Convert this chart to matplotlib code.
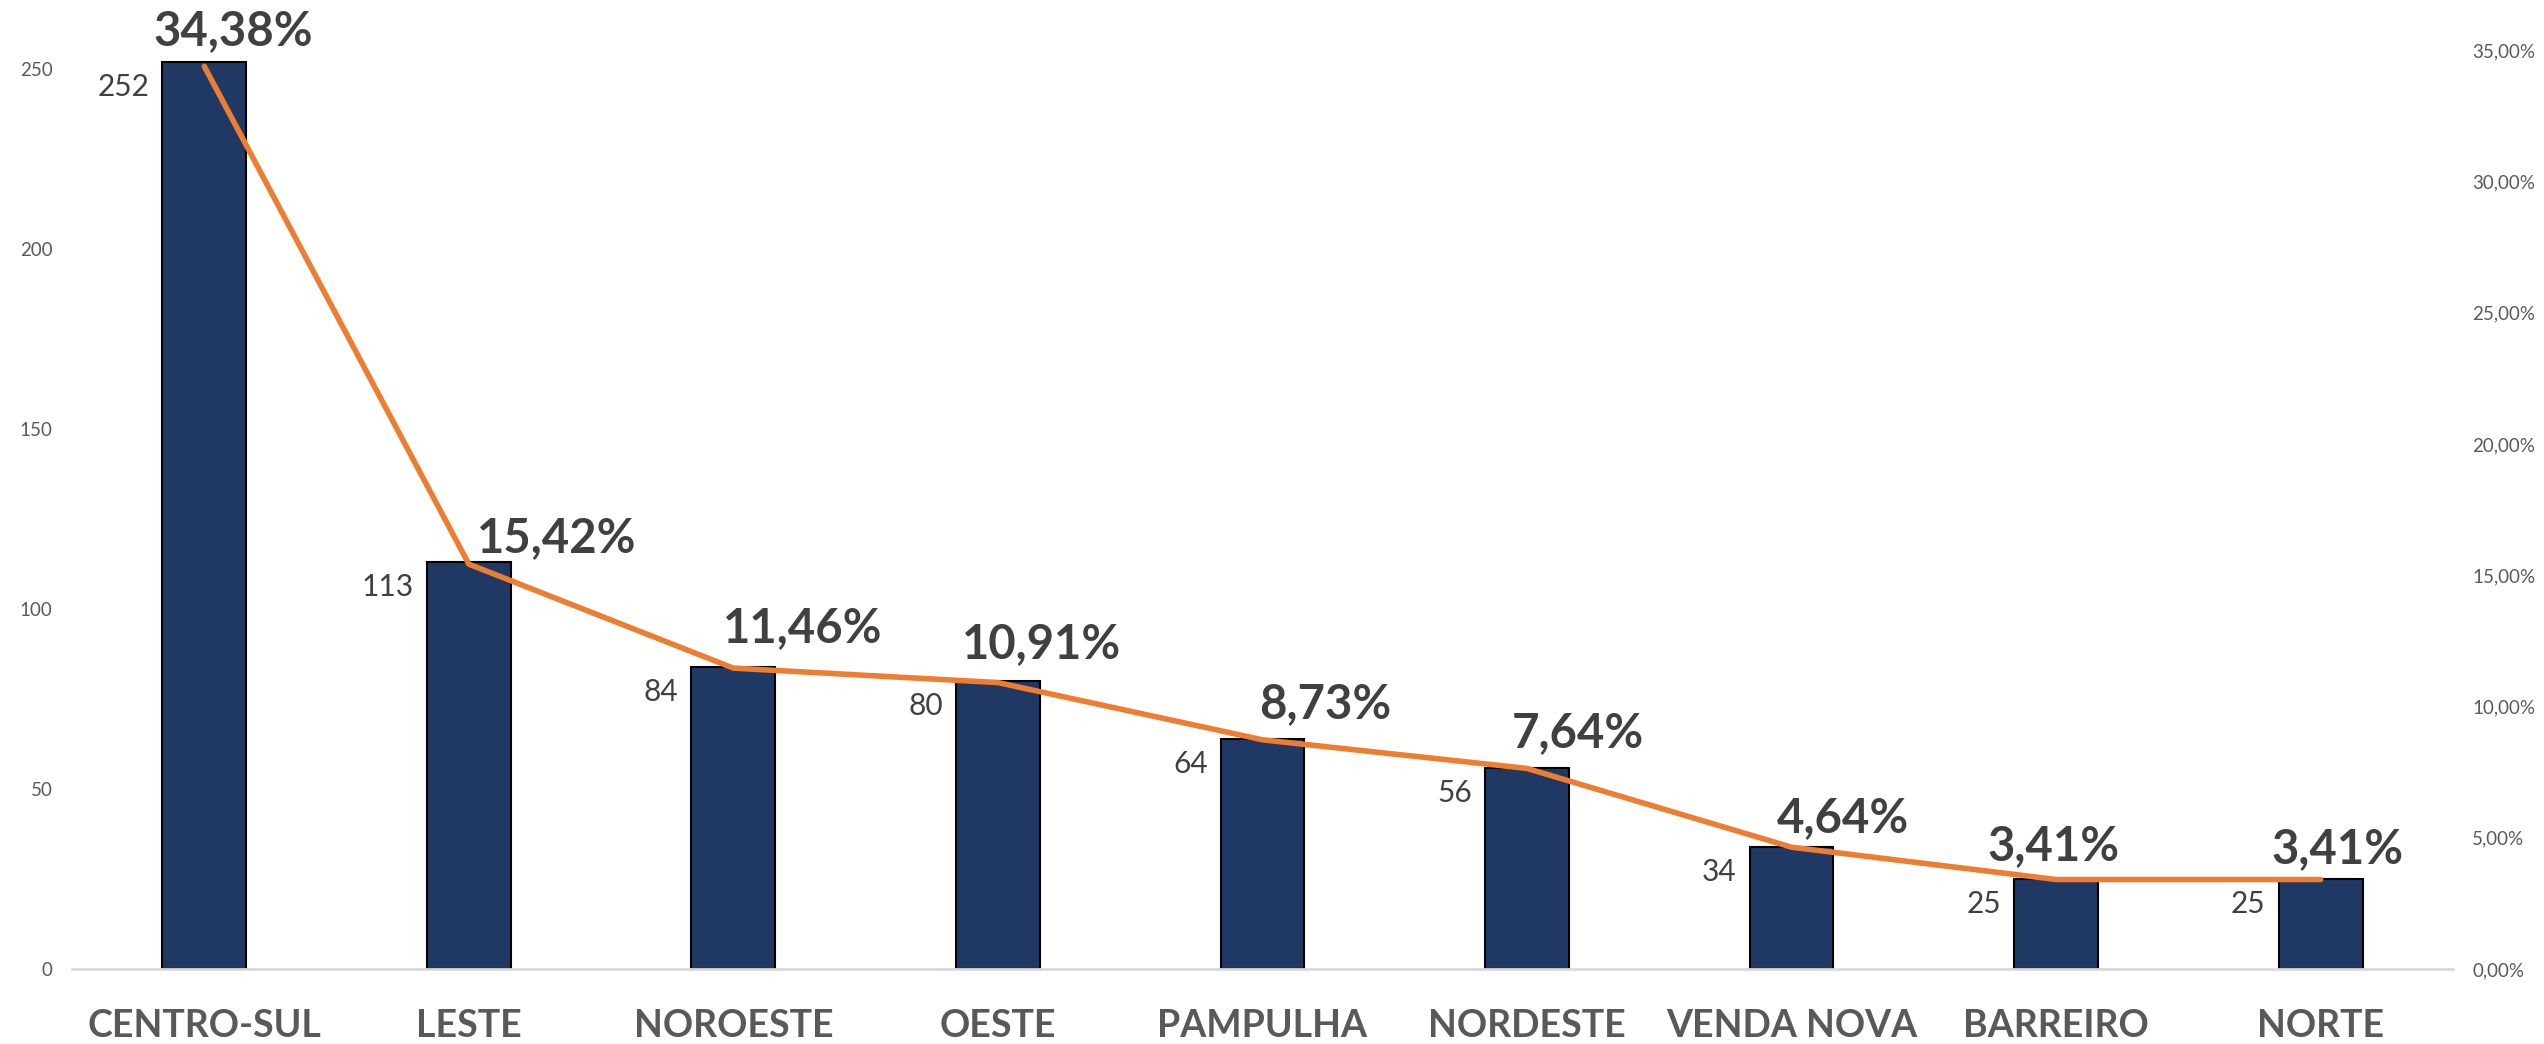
import matplotlib

matplotlib.use("Agg")
import matplotlib.pyplot as plt
from matplotlib.ticker import FuncFormatter

plt.rcParams["font.family"] = ["Lato", "DejaVu Sans"]

# data
regions = ["CENTRO-SUL", "LESTE", "NOROESTE", "OESTE", "PAMPULHA",
           "NORDESTE", "VENDA NOVA", "BARREIRO", "NORTE"]
counts = [252, 113, 84, 80, 64, 56, 34, 25, 25]
shares = [34.38, 15.42, 11.46, 10.91, 8.73, 7.64, 4.64, 3.41, 3.41]
left_ticks = [0, 50, 100, 150, 200, 250]
right_ticks = [0, 5, 10, 15, 20, 25, 30, 35]

# label nudges (pixels), as placed in the original
pct_dx = [-51, 8, -10, -36, -3, -15, -15, -69, -49]
pct_dy = [21, 12, 26, 24, 22, 21, 15, 19, 16]

BAR = "#203864"
LINE = "#ED7D31"
DARK = "#404040"
GREY = "#595959"

fig = plt.figure(figsize=(25.44, 10.44), dpi=100)
ax = fig.add_axes([0.0283, 0.0718, 0.9359, 0.8803])
x = list(range(len(regions)))

bars = ax.bar(x, counts, width=0.317, color=BAR, edgecolor="black",
              linewidth=1.5, zorder=2)
ax.set_xlim(-0.5, len(regions) - 0.5)
ax.set_ylim(0, 255.4)
ax.set_yticks(left_ticks)
ax.set_xticks(x)
ax.set_xticklabels(regions, fontsize=27, fontweight="bold", color=GREY)
ax.tick_params(axis="x", length=0, pad=29)
ax.tick_params(axis="y", length=0, pad=14, labelsize=13.5, labelcolor=GREY)
for side in ["top", "right", "left"]:
    ax.spines[side].set_visible(False)
ax.spines["bottom"].set_color("#D9D9D9")
ax.spines["bottom"].set_linewidth(2)

for rect, n in zip(bars, counts):
    ax.annotate(str(n), xy=(rect.get_x(), n), xytext=(-13, -25),
                textcoords="offset pixels", ha="right", va="center",
                fontsize=21.5, color=DARK)

ax2 = ax.twinx()
ax2.plot(x, shares, color=LINE, linewidth=4, solid_capstyle="round",
         solid_joinstyle="round", zorder=3)
ax2.set_ylim(0, 35)
ax2.set_yticks(right_ticks)
ax2.yaxis.set_major_formatter(
    FuncFormatter(lambda v, _: ("%.2f%%" % v).replace(".", ",")))
ax2.tick_params(axis="y", length=0, pad=14, labelsize=13.5, labelcolor=GREY)
for side in ["top", "right", "left", "bottom"]:
    ax2.spines[side].set_visible(False)

for i, p in enumerate(shares):
    ax2.annotate(("%.2f%%" % p).replace(".", ","), xy=(i, p),
                 xytext=(pct_dx[i], pct_dy[i]), textcoords="offset pixels",
                 ha="left", va="baseline", fontsize=34, fontweight="bold",
                 color=DARK, annotation_clip=False)

fig.savefig("out.png", dpi=100)
